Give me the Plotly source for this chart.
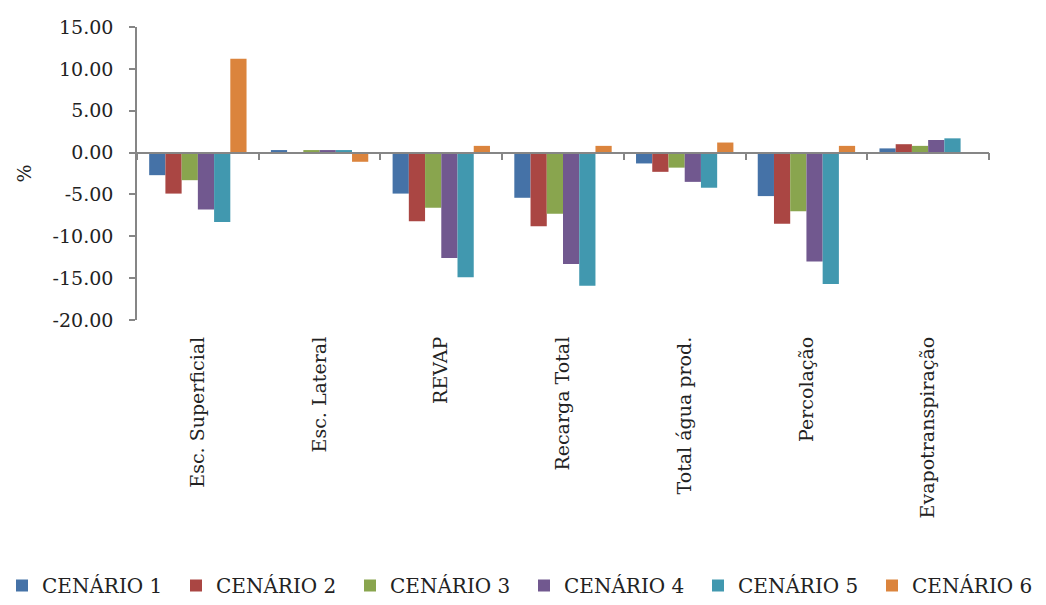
import plotly.graph_objects as go

categories = ["Esc. Superficial", "Esc. Lateral", "REVAP", "Recarga Total",
              "Total água prod.", "Percolação", "Evapotranspiração"]

cenario_1 = [-2.7, 0.3, -4.9, -5.4, -1.3, -5.2, 0.5]
cenario_2 = [-4.9, 0.0, -8.2, -8.8, -2.3, -8.5, 1.0]
cenario_3 = [-3.3, 0.3, -6.6, -7.3, -1.8, -7.0, 0.8]
cenario_4 = [-6.8, 0.3, -12.6, -13.3, -3.5, -13.0, 1.5]
cenario_5 = [-8.3, 0.3, -14.9, -15.9, -4.2, -15.7, 1.7]
cenario_6 = [11.2, -1.1, 0.8, 0.8, 1.2, 0.8, 0.0]

series_names = ["CENÁRIO 1", "CENÁRIO 2", "CENÁRIO 3",
                "CENÁRIO 4", "CENÁRIO 5", "CENÁRIO 6"]
series_values = [cenario_1, cenario_2, cenario_3, cenario_4, cenario_5, cenario_6]
colors = ["#4572A7", "#AA4643", "#89A54E", "#71588F", "#4198AF", "#DB843D"]

y_min, y_max = -20, 15
y_ticks = [15, 10, 5, 0, -5, -10, -15, -20]

W, H = 1046, 605
FONT = "DejaVu Serif"
AXIS_GREY = "#868686"
TEXT = "#222222"
LEGEND_STEP = 174  # px between legend entries

fig = go.Figure()
legends = {}
for i, (name, vals, col) in enumerate(zip(series_names, series_values, colors)):
    key = "legend" if i == 0 else f"legend{i + 1}"
    fig.add_trace(go.Bar(x=categories, y=vals, name=name, legend=key,
                         marker=dict(color=col, line=dict(width=0))))
    # one single-entry legend per series, laid out in a row along the bottom
    legends[key] = dict(orientation="h", xref="container", yref="container",
                        x=(2 + LEGEND_STEP * i) / W, y=-0.01,
                        xanchor="left", yanchor="bottom",
                        font=dict(family=FONT, size=20, color=TEXT),
                        itemwidth=30, bgcolor="rgba(0,0,0,0)")

# horizontal category axis drawn across the zero level, with boundary ticks
zero_frac = (0 - y_min) / (y_max - y_min)
n = len(categories)
fig.add_trace(go.Scatter(x=[-0.5, n - 0.5], y=[0, 0], xaxis="x2", mode="lines",
                         line=dict(width=0), showlegend=False, hoverinfo="skip"))

fig.update_layout(
    width=W, height=H,
    margin=dict(l=137, r=57, t=27, b=285),
    paper_bgcolor="white", plot_bgcolor="white",
    barmode="group", bargap=0.2, bargroupgap=0,
    font=dict(family=FONT, size=19, color=TEXT),
    showlegend=True,
    xaxis=dict(type="category", range=[-0.5, n - 0.5], showline=False,
               showgrid=False, zeroline=False, ticks="", tickangle=-90,
               ticklabelstandoff=12,
               tickfont=dict(family=FONT, size=19, color=TEXT)),
    xaxis2=dict(overlaying="x", anchor="free", position=zero_frac,
                range=[-0.5, n - 0.5], showline=True, linecolor=AXIS_GREY,
                linewidth=1.5, ticks="outside", ticklen=7, tickwidth=1.5,
                tickcolor=AXIS_GREY, tickvals=[i - 0.5 for i in range(n + 1)],
                showticklabels=False, showgrid=False, zeroline=False),
    yaxis=dict(range=[y_min, y_max], tickvals=y_ticks,
               ticktext=[f"{v:.2f}" for v in y_ticks],
               showline=True, linecolor=AXIS_GREY, linewidth=1.5,
               ticks="outside", ticklen=6, tickwidth=1.5, tickcolor=AXIS_GREY,
               ticklabelstandoff=12,
               showgrid=False, zeroline=False,
               tickfont=dict(family=FONT, size=19, color=TEXT),
               title=dict(text="%", standoff=16,
                          font=dict(family=FONT, size=19, color=TEXT))),
    **legends,
)

fig.write_html("out.html")
